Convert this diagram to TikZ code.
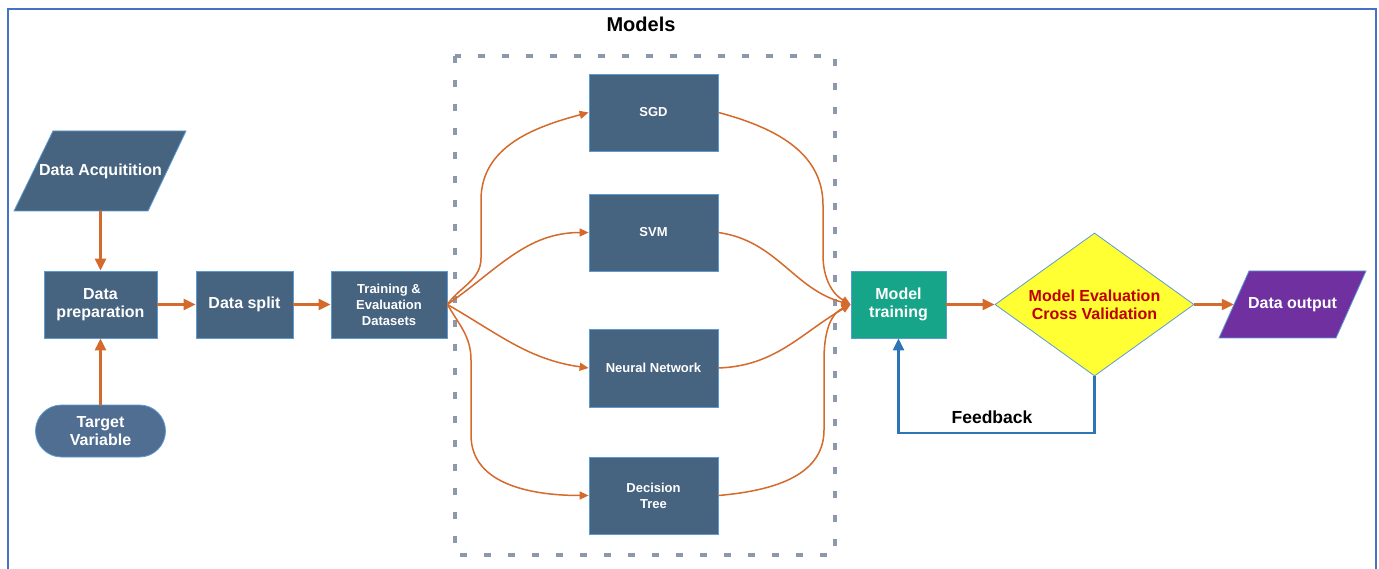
\documentclass[tikz,border=0pt]{standalone}
\usepackage{fontspec}
\setmainfont{Liberation Sans}
\usetikzlibrary{arrows.meta,shapes.geometric}
\definecolor{boxblue}{HTML}{46637F}
\definecolor{tgtblue}{HTML}{4F6E91}
\definecolor{edgeblue}{HTML}{5B9BD5}
\definecolor{arrorange}{HTML}{D46A2C}
\definecolor{dashgray}{HTML}{8C99AB}
\definecolor{teal}{HTML}{17A589}
\definecolor{diamyellow}{HTML}{FFFF33}
\definecolor{darkred}{HTML}{C00000}
\definecolor{purple}{HTML}{7030A0}
\definecolor{fbblue}{HTML}{2E75B6}
\definecolor{frameblue}{HTML}{4472C4}
\begin{document}
\begin{tikzpicture}[x=1pt,y=1pt,
  box/.style={rectangle,fill=boxblue,draw=edgeblue,line width=0.8pt,inner sep=0pt,
    text=white,align=center,font=\fontsize{16}{18}\selectfont\bfseries},
  mbox/.style={box,minimum width=129,minimum height=77,font=\fontsize{13}{16}\selectfont\bfseries},
  para/.style={fill=boxblue,draw=edgeblue,line width=0.8pt},
  ptext/.style={rectangle,inner sep=0pt,text=white,align=center,font=\fontsize{16}{18}\selectfont\bfseries},
  sarr/.style={draw=arrorange,line width=2.2pt,-{Triangle[length=12pt,width=11pt]}},
  carr/.style={draw=arrorange,line width=1.5pt,-{Triangle[length=9pt,width=8pt]}},
  fb/.style={draw=fbblue,line width=2.2pt,-{Triangle[length=12pt,width=11pt]}}
]
\useasboundingbox (0,0) rectangle (1379,-569);
\fill[white] (0,0) rectangle (1379,-569);
% frame
\draw[frameblue,line width=2.2pt] (8,-580) -- (8,-9) -- (1376,-9) -- (1376,-580);

% dashed models container
\draw[dashgray,line width=3.5pt,dash pattern=on 7pt off 17pt] (455,-56) rectangle (835,-555);
\node[font=\fontsize{20}{22}\selectfont\bfseries] (models) at (641,-24) {Models};

% Data acquisition (parallelogram)
\filldraw[para] (53,-131) -- (186,-131) -- (148,-211) -- (14,-211) -- cycle;
\node[ptext,minimum width=133,minimum height=80] (acq) at (100.5,-171) {Data Acquitition};

\node[box,minimum width=113,minimum height=67] (prep) at (100.5,-304.5) {Data\\preparation};
\node[box,fill=tgtblue,minimum width=130,minimum height=52,rounded corners=26pt] (tgt) at (100.5,-431) {Target\\Variable};
\node[box,minimum width=97,minimum height=67] (split) at (244.5,-304.5) {Data split};
\node[box,minimum width=116,minimum height=67,font=\fontsize{13}{16}\selectfont\bfseries] (tr) at (389,-304.5) {Training \&\\Evaluation\\Datasets};

\node[mbox] (sgd) at (653.5,-112.5) {SGD};
\node[mbox] (svm) at (653.5,-232.5) {SVM};
\node[mbox,minimum height=78] (nn) at (653.5,-368) {Neural Network};
\node[mbox] (dt) at (653.5,-495.5) {Decision\\Tree};

\node[box,fill=teal,minimum width=95,minimum height=67] (mt) at (898.5,-304.5) {Model\\training};

\node[diamond,fill=diamyellow,draw=edgeblue,line width=0.8pt,inner sep=0pt,aspect=1.39,
  minimum width=199,minimum height=143,text=darkred,align=center,
  font=\fontsize{16}{18}\selectfont\bfseries] (ev) at (1094.5,-304.5) {Model Evaluation\\Cross Validation};

% Data output (parallelogram)
\filldraw[fill=purple,draw=edgeblue,line width=0.8pt] (1249,-271) -- (1366,-271) -- (1336,-338) -- (1219,-338) -- cycle;
\node[ptext,minimum width=117,minimum height=67] (out) at (1292.5,-304.5) {Data output};

% straight arrows
\draw[sarr] (acq.south) -- (prep.north);
\draw[sarr] (tgt.north) -- (prep.south);
\draw[sarr] (prep.east) -- (split.west);
\draw[sarr] (split.east) -- (tr.west);
\draw[sarr] (mt.east) -- (ev.west);
\draw[sarr] (ev.east) -- (out.west);

% fan out
\draw[carr] (tr.east) to[out=55,in=-90] (481,-258) -- (481,-200) to[out=90,in=195] (sgd.west);
\draw[carr] (tr.east) to[out=35,in=180] (svm.west);
\draw[carr] (tr.east) to[out=-30,in=172] (nn.west);
\draw[carr] (tr.east) to[out=-60,in=90] (471,-360) -- (471,-435) to[out=-90,in=180] (dt.west);

% fan in
\draw[carr] (sgd.east) to[out=-15,in=90] (823,-205) -- (823,-255) to[out=-90,in=150] (mt.west);
\draw[carr] (svm.east) to[out=-8,in=165] (mt.west);
\draw[carr] (nn.east) to[out=2,in=210] (mt.west);
\draw[carr] (dt.east) to[out=5,in=-90] (824,-430) -- (824,-360) to[out=90,in=205] (mt.west);

% feedback
\draw[fb] (ev.south) -- (1094.5,-433) -| (mt.south);
\node[font=\fontsize{17.5}{20}\selectfont\bfseries] (fbl) at (992,-417) {Feedback};
\end{tikzpicture}
\end{document}
